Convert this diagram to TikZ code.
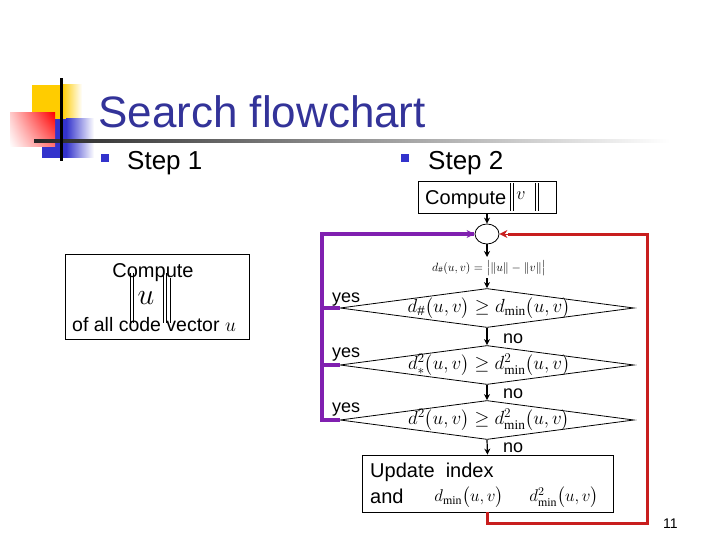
\RequirePackage{fix-cm}
\documentclass[tikz,border=0pt]{standalone}
\usepackage{amsmath}
\usepackage{fontspec}
\setmainfont{Liberation Sans}
\newfontfamily\mserif{Liberation Serif}
\newcommand{\mn}{\text{\mserif min}}
\usetikzlibrary{arrows.meta,shapes.geometric,shadings}
\definecolor{titleblue}{RGB}{51,51,153}
\definecolor{bulletblue}{RGB}{51,51,204}
\definecolor{yesline}{RGB}{128,32,176}
\definecolor{noline}{RGB}{200,30,30}
\definecolor{decoyellow}{RGB}{255,204,0}
\begin{document}
\begin{tikzpicture}[x=1pt,y=-1pt,
  txt/.style={anchor=base west,inner sep=0,font=\fontsize{20}{24}\selectfont},
  blt/.style={fill=bulletblue,inner sep=0,minimum size=8,draw=none},
  box/.style={draw,line width=0.8,inner sep=0},
  dia/.style={diamond,draw,line width=0.8,inner sep=0,minimum width=294,minimum height=39},
  arr/.style={-{Stealth[length=6,width=6]},line width=1.2},
  yesarr/.style={draw=yesline,line width=3.5},
  noarr/.style={draw=noline,line width=3},
  mth/.style={inner sep=0,font=\fontsize{19}{23}\selectfont},
  bar/.style={line width=0.8}]
\useasboundingbox (0,0) rectangle (720,540);
% decoration
\fill[decoyellow] (32,85) rectangle (62,120);
\shade[left color=decoyellow,right color=white] (62,85) rectangle (82,120);
\fill[bulletblue] (42,119) rectangle (66,158);
\shade[left color=bulletblue,right color=white] (66,119) rectangle (94,158);
\shade[upper right=red,lower right=red!55,upper left=red!20,lower left=white] (10,113) rectangle (55,147);
\shade[left color=black!85,right color=white] (34,140) rectangle (670,142.5);
\fill[black] (60,78) rectangle (62.5,161);
% title and bullets
\node[anchor=base west,inner sep=0,text=titleblue,font=\fontsize{44}{50}\selectfont] (title) at (98,128) {Search flowchart};
\node[blt] (b1) at (105,158) {};
\node[txt,font=\fontsize{26}{30}\selectfont] (s1) at (127,170) {Step 1};
\node[blt] (b2) at (405,158) {};
\node[txt,font=\fontsize{26}{30}\selectfont] (s2) at (428,170) {Step 2};
% step 1 box
\node[box,minimum width=184,minimum height=85] (s1box) at (157,297) {};
\node[anchor=base,inner sep=0,font=\fontsize{20}{24}\selectfont] (c1) at (153,277) {Compute};
\node[inner sep=0,font=\fontsize{30}{34}\selectfont] (u1) at (146,298) {$u$};
\draw[bar] (130,273) -- (130,323) (133.5,273) -- (133.5,323)
           (163,273) -- (163,323) (166.5,273) -- (166.5,323);
\draw[line width=0.5] (170,278) -- (170,323);
\node[txt,font=\fontsize{19.5}{24}\selectfont] (c2) at (72,331) {of all code vector $u$};
% step 2 box
\node[box,minimum width=138,minimum height=32] (cv) at (487,197) {};
\node[txt] (cvt) at (425,205) {Compute};
\node[inner sep=0,font=\fontsize{18}{22}\selectfont] (vv) at (521,196) {$v$};
\draw[bar] (510,183) -- (510,211) (513.5,183) -- (513.5,211)
           (535,183) -- (535,211) (538.5,183) -- (538.5,211);
% junction
\node[draw,ellipse,line width=0.8,minimum width=24,minimum height=20,inner sep=0] (j) at (487,234) {};
\node[inner sep=0,font=\fontsize{12}{14}\selectfont] (f0) at (489,268) {$d_{\#}(u,v)=\bigl|\|u\|-\|v\|\bigr|$};
% diamonds
\node[dia] (d1) at (487,308) {};
\node[mth] (t1) at (489,308) {$d_{\#}\big(u,v\big)\geq d_{\mn}\big(u,v\big)$};
\node[dia] (d2) at (487,365) {};
\node[mth] (t2) at (489,365) {$d_{*}^{2}\big(u,v\big)\geq d_{\mn}^{2}\big(u,v\big)$};
\node[dia] (d3) at (487,420) {};
\node[mth] (t3) at (489,420) {$d^{2}\big(u,v\big)\geq d_{\mn}^{2}\big(u,v\big)$};
% update box
\node[box,minimum width=251,minimum height=57] (up) at (487.5,483.5) {};
\node[txt] (up1) at (370,477) {Update\ \ index};
\node[txt] (up2) at (370,503) {and};
\node[inner sep=0,font=\fontsize{17}{21}\selectfont] (m1) at (469,497.5) {$d_{\mn}\big(u,v\big)$};
\node[inner sep=0,font=\fontsize{17}{21}\selectfont] (m2) at (564,497.5) {$d_{\mn}^{2}\big(u,v\big)$};
% labels
\node[txt,font=\fontsize{18}{22}\selectfont] (y1) at (332,302) {yes};
\node[txt,font=\fontsize{18}{22}\selectfont] (y2) at (332,357) {yes};
\node[txt,font=\fontsize{18}{22}\selectfont] (y3) at (332,412) {yes};
\node[txt,font=\fontsize{18}{22}\selectfont] (n1) at (503,343) {no};
\node[txt,font=\fontsize{18}{22}\selectfont] (n2) at (503,398) {no};
\node[txt,font=\fontsize{18}{22}\selectfont] (n3) at (503,452) {no};
\node[txt,font=\fontsize{14}{16}\selectfont] (pg) at (663,528) {11};
% black connectors
\coordinate (f0n) at (487,257);
\coordinate (f0s) at (487,278);
\draw[arr] (cv.south) -- (j.north);
\draw[arr] (j.south) -- (f0n);
\draw[arr] (f0s) -- (d1.north);
\draw[arr] (d1.south) -- (d2.north);
\draw[arr] (d2.south) -- (d3.north);
\draw[arr] (d3.south) -- (up.north);
% yes loop
\coordinate (py) at (322,234);
\draw[yesarr] (d3.west) -- (py |- d3.west) -- (py) -- ([xshift=-1]j.west);
\draw[yesline,-{Stealth[length=8,width=8]},line width=1] ([xshift=-9]j.west) -- (j.west);
\draw[yesarr] (d1.west) -- (py |- d1.west);
\draw[yesarr] (d2.west) -- (py |- d2.west);
% no loop
\coordinate (pr) at (647,523);
\draw[noarr,line join=miter] (up.south) -- (up.south |- pr) -- (pr) -- (pr |- j.east) -- ([xshift=9]j.east);
\draw[noline,-{Stealth[length=8,width=8]},line width=1] ([xshift=10]j.east) -- (j.east);
\end{tikzpicture}
\end{document}
